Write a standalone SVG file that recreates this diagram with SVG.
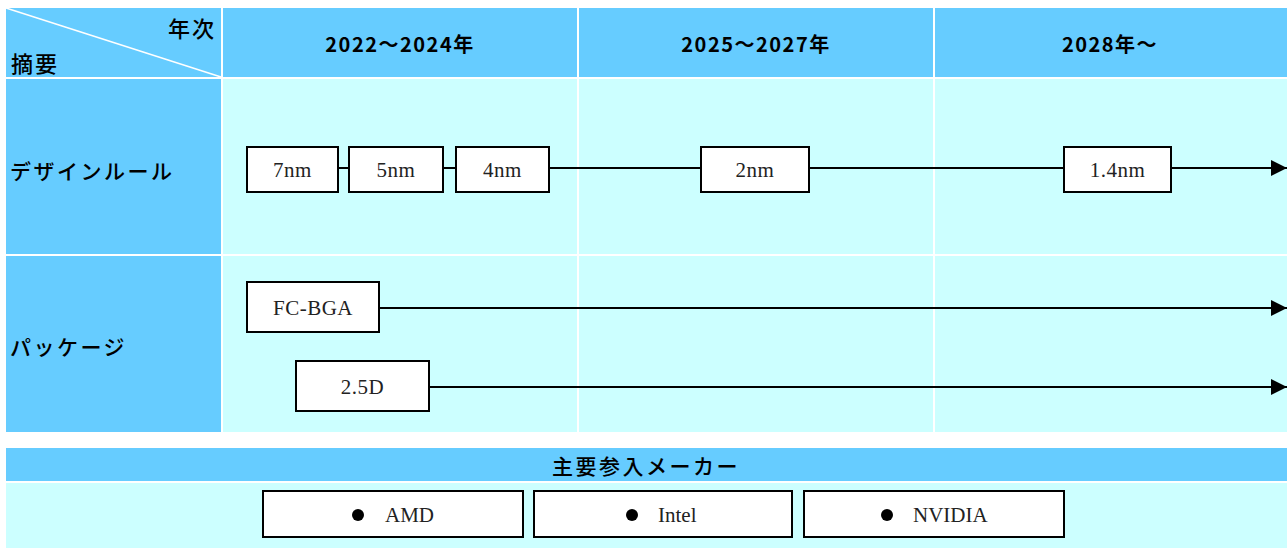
<svg xmlns="http://www.w3.org/2000/svg" width="1287" height="548" viewBox="0 0 1287 548">
<style>
.hd{fill:#66CCFF}
.lt{fill:#CCFFFF}
.jp{font-family:"Noto Sans CJK JP","Noto Sans",sans-serif;fill:#000}
.hdt{font-size:20px;font-weight:bold;text-anchor:middle;letter-spacing:1.5px}
.lbl{font-size:21px;font-weight:500;letter-spacing:2.5px}
.box{fill:#fff;stroke:#000;stroke-width:2}
.bt{font-family:"Liberation Serif","DejaVu Serif",serif;font-size:21px;text-anchor:middle;fill:#222;letter-spacing:0.5px}
.bs{font-family:"Liberation Serif","DejaVu Serif",serif;font-size:21px;fill:#222}
.ln{stroke:#000;stroke-width:2;fill:none}
.wl{stroke:#fff;stroke-width:2}
</style>
<defs>
<marker id="ah" viewBox="0 0 10 10" refX="10" refY="5" markerWidth="16" markerHeight="16" markerUnits="userSpaceOnUse" orient="auto">
<path d="M0,0 L10,5 L0,10 Z" fill="#000"/>
</marker>
</defs>
<g id="table">
<rect x="6" y="8" width="1281" height="424" class="lt"/>
<rect x="6" y="8" width="1281" height="69" class="hd"/>
<rect x="6" y="8" width="215" height="424" class="hd"/>
<line x1="6" y1="78" x2="1287" y2="78" class="wl"/>
<line x1="6" y1="255" x2="1287" y2="255" class="wl"/>
<line x1="222" y1="8" x2="222" y2="432" class="wl"/>
<line x1="578" y1="8" x2="578" y2="432" class="wl"/>
<line x1="934" y1="8" x2="934" y2="432" class="wl"/>
<line x1="6" y1="8" x2="221" y2="77" stroke="#fff" stroke-width="1.5"/>
<text x="216" y="37" class="jp" font-size="22" font-weight="500" text-anchor="end" letter-spacing="2">年次</text>
<text x="11" y="72" class="jp" font-size="22" font-weight="500" letter-spacing="2">摘要</text>
<text x="400" y="52" class="jp hdt">2022～2024年</text>
<text x="756" y="52" class="jp hdt">2025～2027年</text>
<text x="1110" y="52" class="jp hdt">2028年～</text>
<text x="10" y="179" class="jp lbl">デザインルール</text>
<text x="10" y="355" class="jp lbl">パッケージ</text>
</g>
<g id="connectors">
<line x1="338" y1="168" x2="349" y2="168" class="ln"/>
<line x1="443" y1="168" x2="456" y2="168" class="ln"/>
<line x1="549" y1="168" x2="701" y2="168" class="ln"/>
<line x1="809" y1="168" x2="1064" y2="168" class="ln"/>
<line x1="1171" y1="168" x2="1287" y2="168" class="ln" marker-end="url(#ah)"/>
<line x1="379" y1="308" x2="1287" y2="308" class="ln" marker-end="url(#ah)"/>
<line x1="429" y1="387" x2="1287" y2="387" class="ln" marker-end="url(#ah)"/>
</g>
<g id="n7nm"><rect x="247" y="147" width="91" height="45" class="box"/><text x="292.5" y="177" class="bt">7nm</text></g>
<g id="n5nm"><rect x="349" y="147" width="94" height="45" class="box"/><text x="396" y="177" class="bt">5nm</text></g>
<g id="n4nm"><rect x="456" y="147" width="93" height="45" class="box"/><text x="502.5" y="177" class="bt">4nm</text></g>
<g id="n2nm"><rect x="701" y="147" width="108" height="45" class="box"/><text x="755" y="177" class="bt">2nm</text></g>
<g id="n14nm"><rect x="1064" y="147" width="107" height="45" class="box"/><text x="1117.5" y="177" class="bt">1.4nm</text></g>
<g id="fcbga"><rect x="247" y="282" width="132" height="50" class="box"/><text x="313" y="315" class="bt">FC-BGA</text></g>
<g id="d25"><rect x="296" y="361" width="133" height="50" class="box"/><text x="362.5" y="394" class="bt">2.5D</text></g>
<g id="makers">
<rect x="6" y="448" width="1281" height="33" class="hd"/>
<rect x="6" y="483" width="1281" height="65" class="lt"/>
<text x="646" y="474" class="jp" font-size="21" font-weight="500" text-anchor="middle" letter-spacing="2.5">主要参入メーカー</text>
</g>
<g id="amd"><rect x="263" y="491" width="260" height="46" class="box"/><circle cx="358" cy="515" r="6"/><text x="385" y="522" class="bs">AMD</text></g>
<g id="intel"><rect x="534" y="491" width="258" height="46" class="box"/><circle cx="632" cy="515" r="6"/><text x="658" y="522" class="bs">Intel</text></g>
<g id="nvidia"><rect x="804" y="491" width="260" height="46" class="box"/><circle cx="887" cy="515" r="6"/><text x="913" y="522" class="bs">NVIDIA</text></g>
</svg>
